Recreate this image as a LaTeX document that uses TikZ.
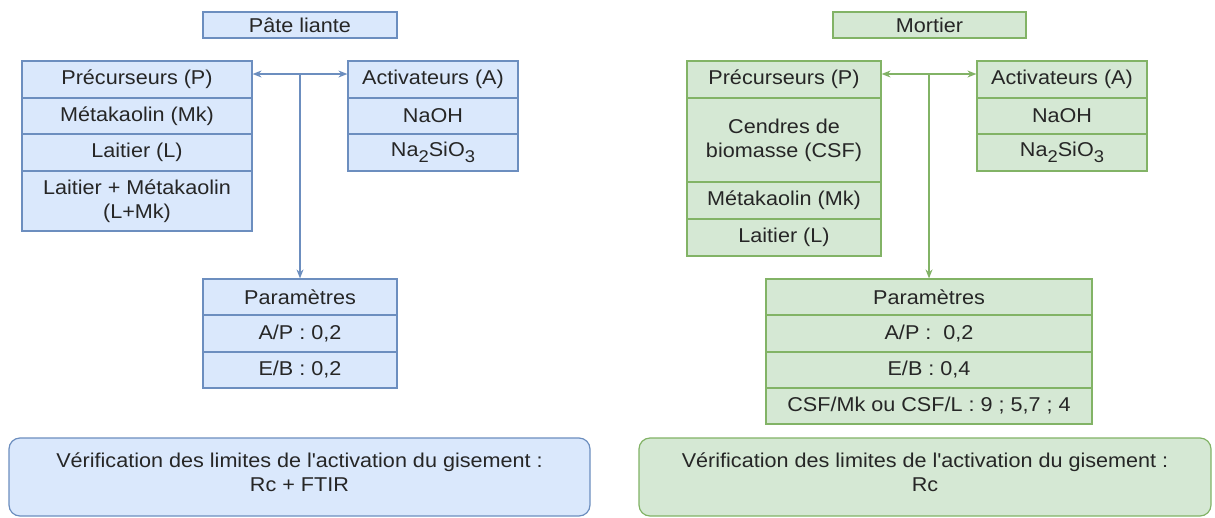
\documentclass[tikz,border=0pt]{standalone}
\usepackage{fontspec}
\setmainfont{Liberation Sans}[FakeStretch=1.08]
\usetikzlibrary{arrows.meta}
\definecolor{bfill}{HTML}{DAE8FC}
\definecolor{bline}{HTML}{6C8EBF}
\definecolor{gfill}{HTML}{D5E8D4}
\definecolor{gline}{HTML}{82B366}
\definecolor{txt}{HTML}{262626}
\newcommand{\sbs}[1]{\raisebox{-0.3em}{\fontsize{17}{17}\selectfont #1}}
\begin{document}
\begin{tikzpicture}[x=1pt,y=-1pt,
  every node/.style={font=\fontsize{20}{24}\selectfont, text=txt, inner sep=0pt, align=center},
  bcell/.style={draw=bline, fill=bfill, line width=1.2pt, rectangle},
  gcell/.style={draw=gline, fill=gfill, line width=1.2pt, rectangle},
  barr/.style={draw=bline, line width=1.2pt, -{Stealth[length=9pt,width=7pt]}},
  garr/.style={draw=gline, line width=1.2pt, -{Stealth[length=9pt,width=7pt]}},
  bdarr/.style={draw=bline, line width=1.2pt, {Stealth[length=9pt,width=7pt]}-{Stealth[length=9pt,width=7pt]}},
  gdarr/.style={draw=gline, line width=1.2pt, {Stealth[length=9pt,width=7pt]}-{Stealth[length=9pt,width=7pt]}},
]
\useasboundingbox (0,0) rectangle (1215,517);
\fill[white] (0,0) rectangle (1215,517);

% ---------------- Left : Pâte liante ----------------
\node[bcell, minimum width=194pt, minimum height=26pt] (tL) at (300,25) {Pâte liante};

\node[bcell, minimum width=230pt, minimum height=37pt] (lp1) at (137,79.5) {Précurseurs (P)};
\node[bcell, minimum width=230pt, minimum height=36pt] (lp2) at (137,116) {Métakaolin (Mk)};
\node[bcell, minimum width=230pt, minimum height=37pt] (lp3) at (137,152.5) {Laitier (L)};
\node[bcell, minimum width=230pt, minimum height=60pt] (lp4) at (137,201) {Laitier + Métakaolin\\(L+Mk)};

\node[bcell, minimum width=170pt, minimum height=37pt] (la1) at (433,79.5) {Activateurs (A)};
\node[bcell, minimum width=170pt, minimum height=36pt] (la2) at (433,116) {NaOH};
\node[bcell, minimum width=170pt, minimum height=37pt] (la3) at (433,152.5) {Na\sbs{2}SiO\sbs{3}};

\node[bcell, minimum width=194pt, minimum height=36pt] (lr1) at (300,297) {Paramètres};
\node[bcell, minimum width=194pt, minimum height=37pt] (lr2) at (300,333.5) {A/P : 0,2};
\node[bcell, minimum width=194pt, minimum height=36pt] (lr3) at (300,370) {E/B : 0,2};

\node[bcell, rounded corners=11pt, minimum width=581pt, minimum height=78pt] (lv) at (299.5,477) {};
\node at (299.5,472) {Vérification des limites de l\textquotesingle activation du gisement :\\Rc + FTIR};

\coordinate (jL) at (300,74);
\draw[bdarr] (lp1.east |- jL) -- (la1.west |- jL);
\draw[barr] (jL) -- (lr1.north);

% ---------------- Right : Mortier ----------------
\node[gcell, minimum width=193pt, minimum height=26pt] (tR) at (929.5,25) {Mortier};

\node[gcell, minimum width=194pt, minimum height=37pt] (rp1) at (784,79.5) {Précurseurs (P)};
\node[gcell, minimum width=194pt, minimum height=84pt] (rp2) at (784,140) {Cendres de\\biomasse (CSF)};
\node[gcell, minimum width=194pt, minimum height=37pt] (rp3) at (784,200.5) {Métakaolin (Mk)};
\node[gcell, minimum width=194pt, minimum height=37pt] (rp4) at (784,237.5) {Laitier (L)};

\node[gcell, minimum width=170pt, minimum height=37pt] (ra1) at (1062,79.5) {Activateurs (A)};
\node[gcell, minimum width=170pt, minimum height=36pt] (ra2) at (1062,116) {NaOH};
\node[gcell, minimum width=170pt, minimum height=37pt] (ra3) at (1062,152.5) {Na\sbs{2}SiO\sbs{3}};

\node[gcell, minimum width=326pt, minimum height=36pt] (rr1) at (929,297) {Paramètres};
\node[gcell, minimum width=326pt, minimum height=37pt] (rr2) at (929,333.5) {A/P :\ \ 0,2};
\node[gcell, minimum width=326pt, minimum height=36pt] (rr3) at (929,370) {E/B : 0,4};
\node[gcell, minimum width=326pt, minimum height=36pt] (rr4) at (929,406) {CSF/Mk ou CSF/L : 9 ; 5,7 ; 4};

\node[gcell, rounded corners=11pt, minimum width=572pt, minimum height=78pt] (rv) at (925,477) {};
\node at (925,472) {Vérification des limites de l\textquotesingle activation du gisement :\\Rc};

\coordinate (jR) at (929,74);
\draw[gdarr] (rp1.east |- jR) -- (ra1.west |- jR);
\draw[garr] (jR) -- (rr1.north);
\end{tikzpicture}
\end{document}
